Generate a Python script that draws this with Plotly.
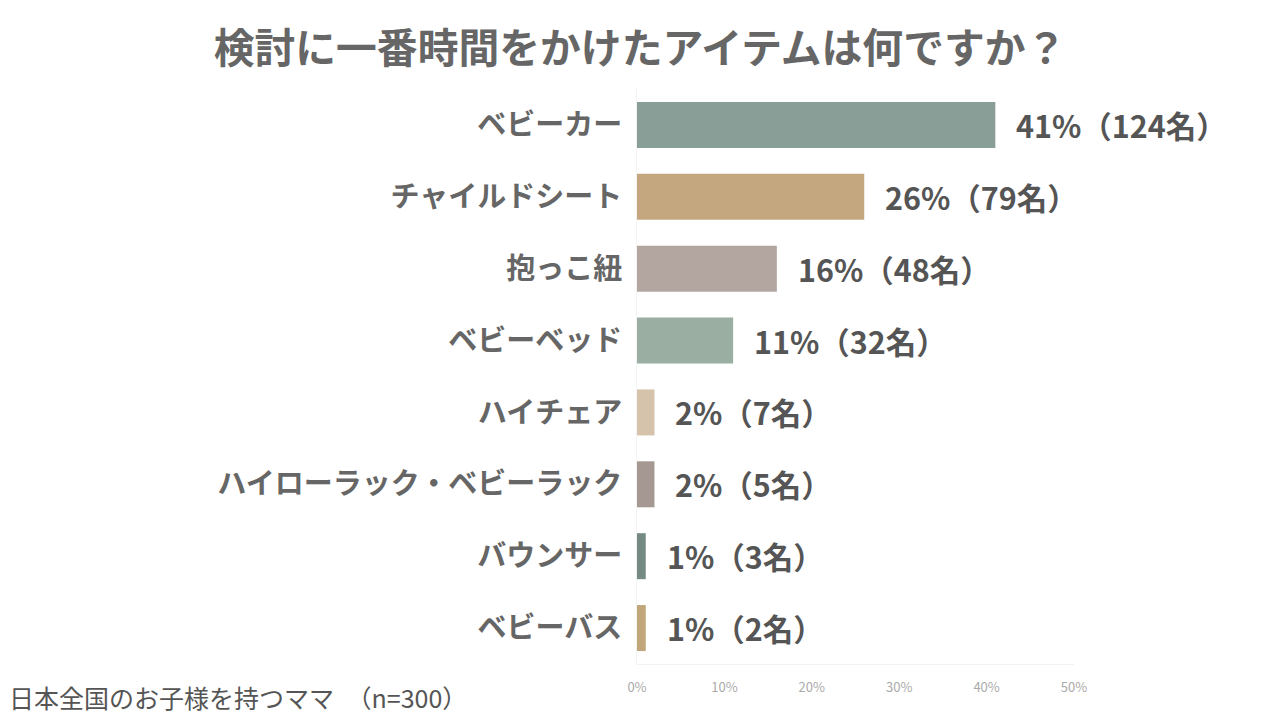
import plotly.graph_objects as go

# data
categories = ["ベビーカー", "チャイルドシート", "抱っこ紐", "ベビーベッド",
              "ハイチェア", "ハイローラック・ベビーラック", "バウンサー", "ベビーバス"]
percents = [41, 26, 16, 11, 2, 2, 1, 1]
counts = [124, 79, 48, 32, 7, 5, 3, 2]
bar_colors = ["#8a9e98", "#c4a77f", "#b3a5a0", "#9aaea2",
              "#d6c3ab", "#a59792", "#768a84", "#c0a67a"]
x_ticks = [0, 10, 20, 30, 40, 50]

FONT = "Noto Sans CJK JP"

fig = go.Figure()

fig.add_trace(go.Bar(
    x=percents,
    y=categories,
    orientation="h",
    marker=dict(color=bar_colors, line=dict(width=0)),
    width=0.64,
    hoverinfo="skip",
))

# value labels next to each bar
for cat, p, c in zip(categories, percents, counts):
    fig.add_annotation(
        x=p, y=cat,
        text=f"<b>{p}%（{c}名）</b>",
        showarrow=False,
        xanchor="left",
        xshift=19,
        font=dict(family=FONT, size=30.5, color="#555555"),
    )

fig.add_annotation(
    text="日本全国のお子様を持つママ　（n=300）",
    xref="paper", yref="paper",
    x=-630 / 437, y=-33 / 575,
    xanchor="left", yanchor="middle",
    showarrow=False,
    font=dict(family=FONT, size=25, color="#555555"),
)

fig.update_layout(
    title=dict(
        text="<b>検討に一番時間をかけたアイテムは何ですか？</b>",
        x=0.5, xanchor="center",
        y=0.933, yanchor="middle",
        font=dict(family=FONT, size=40.8, color="#666666"),
    ),
    width=1280, height=720,
    margin=dict(l=637, r=206, t=89, b=56),
    paper_bgcolor="white",
    plot_bgcolor="white",
    showlegend=False,
    bargap=0.36,
)

fig.update_xaxes(
    range=[0, 50],
    tickvals=x_ticks,
    ticktext=[f"{t}%" for t in x_ticks],
    tickfont=dict(family=FONT, size=13, color="#aaaaaa"),
    showgrid=False,
    zeroline=False,
    showline=True, linecolor="#f3f3f3", linewidth=1,
    ticks="outside", ticklen=11, tickcolor="white",
    fixedrange=True,
)

fig.update_yaxes(
    categoryorder="array",
    categoryarray=categories[::-1],
    tickfont=dict(family=FONT, size=29, color="#666666"),
    tickprefix="<b>", ticksuffix="</b>",
    showgrid=False,
    zeroline=False,
    showline=True, linecolor="#f3f3f3", linewidth=1,
    ticks="outside", ticklen=8, tickcolor="white",
    fixedrange=True,
)

# drop the default page margin so the figure sits at the window's corner
fig.write_html("out.html", config={"displayModeBar": False},
               post_script="document.body.style.margin='0';")
